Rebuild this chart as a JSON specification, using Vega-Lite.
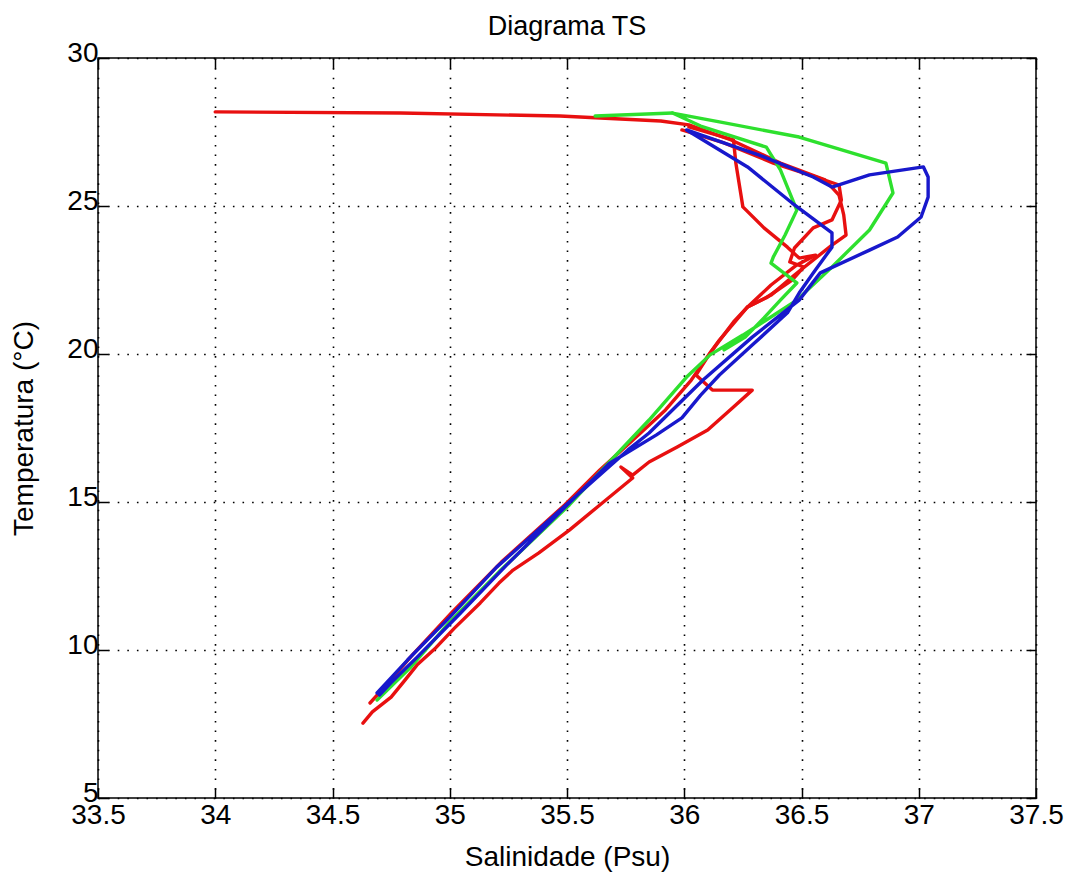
{
  "$schema": "https://vega.github.io/schema/vega-lite/v6.json",
  "width": 938,
  "height": 740,
  "autosize": {"type": "none"},
  "padding": {"left": 98, "top": 58, "right": 34, "bottom": 83},
  "background": "white",
  "title": {"text": "Diagrama TS", "fontSize": 27, "fontWeight": "normal", "font": "Liberation Sans", "color": "black", "offset": -2},
  "config": {
    "view": {"stroke": "black", "strokeWidth": 1.5},
    "font": "Liberation Sans",
    "axis": {
      "labelFont": "Liberation Sans",
      "titleFont": "Liberation Sans",
      "labelColor": "black",
      "titleColor": "black",
      "labelFontSize": 28,
      "titleFontSize": 28,
      "titleFontWeight": "normal",
      "domain": false,
      "tickColor": "black",
      "tickWidth": 1.5,
      "tickSize": -10,
      "labelFlush": false,
      "labelOverlap": false
    }
  },
  "datasets": {
    "perfis": [
      {"serie": "R1", "cor": "vermelho", "ordem": 1, "sal": 34.00, "temp": 28.18},
      {"serie": "R1", "cor": "vermelho", "ordem": 2, "sal": 34.79, "temp": 28.14},
      {"serie": "R1", "cor": "vermelho", "ordem": 3, "sal": 35.47, "temp": 28.04},
      {"serie": "R1", "cor": "vermelho", "ordem": 4, "sal": 35.90, "temp": 27.87},
      {"serie": "R1", "cor": "vermelho", "ordem": 5, "sal": 36.02, "temp": 27.74},
      {"serie": "R1", "cor": "vermelho", "ordem": 6, "sal": 36.20, "temp": 27.23},
      {"serie": "R1", "cor": "vermelho", "ordem": 7, "sal": 36.41, "temp": 26.45},
      {"serie": "R1", "cor": "vermelho", "ordem": 8, "sal": 36.60, "temp": 25.88},
      {"serie": "R1", "cor": "vermelho", "ordem": 9, "sal": 36.66, "temp": 25.37},
      {"serie": "R1", "cor": "vermelho", "ordem": 10, "sal": 36.68, "temp": 24.70},
      {"serie": "R1", "cor": "vermelho", "ordem": 11, "sal": 36.69, "temp": 24.02},
      {"serie": "R1", "cor": "vermelho", "ordem": 12, "sal": 36.63, "temp": 23.68},
      {"serie": "R1", "cor": "vermelho", "ordem": 13, "sal": 36.56, "temp": 23.24},
      {"serie": "R1", "cor": "vermelho", "ordem": 14, "sal": 36.47, "temp": 22.67},
      {"serie": "R1", "cor": "vermelho", "ordem": 15, "sal": 36.37, "temp": 21.99},
      {"serie": "R1", "cor": "vermelho", "ordem": 16, "sal": 36.27, "temp": 21.59},
      {"serie": "R1", "cor": "vermelho", "ordem": 17, "sal": 36.15, "temp": 20.47},
      {"serie": "R1", "cor": "vermelho", "ordem": 18, "sal": 36.11, "temp": 20.03},
      {"serie": "R1", "cor": "vermelho", "ordem": 19, "sal": 36.03, "temp": 19.12},
      {"serie": "R1", "cor": "vermelho", "ordem": 20, "sal": 35.92, "temp": 18.11},
      {"serie": "R1", "cor": "vermelho", "ordem": 21, "sal": 35.78, "temp": 17.09},
      {"serie": "R1", "cor": "vermelho", "ordem": 22, "sal": 35.64, "temp": 16.08},
      {"serie": "R1", "cor": "vermelho", "ordem": 23, "sal": 35.49, "temp": 14.90},
      {"serie": "R1", "cor": "vermelho", "ordem": 24, "sal": 35.22, "temp": 12.97},
      {"serie": "R1", "cor": "vermelho", "ordem": 25, "sal": 35.01, "temp": 11.28},
      {"serie": "R1", "cor": "vermelho", "ordem": 26, "sal": 34.84, "temp": 9.83},
      {"serie": "R1", "cor": "vermelho", "ordem": 27, "sal": 34.73, "temp": 8.82},
      {"serie": "R1", "cor": "vermelho", "ordem": 28, "sal": 34.66, "temp": 8.21},

      {"serie": "R2", "cor": "vermelho", "ordem": 1, "sal": 36.02, "temp": 27.67},
      {"serie": "R2", "cor": "vermelho", "ordem": 2, "sal": 36.21, "temp": 27.23},
      {"serie": "R2", "cor": "vermelho", "ordem": 3, "sal": 36.22, "temp": 26.45},
      {"serie": "R2", "cor": "vermelho", "ordem": 4, "sal": 36.25, "temp": 24.97},
      {"serie": "R2", "cor": "vermelho", "ordem": 5, "sal": 36.34, "temp": 24.26},
      {"serie": "R2", "cor": "vermelho", "ordem": 6, "sal": 36.44, "temp": 23.61},
      {"serie": "R2", "cor": "vermelho", "ordem": 7, "sal": 36.49, "temp": 23.24},
      {"serie": "R2", "cor": "vermelho", "ordem": 8, "sal": 36.56, "temp": 23.34},
      {"serie": "R2", "cor": "vermelho", "ordem": 9, "sal": 36.48, "temp": 23.01},
      {"serie": "R2", "cor": "vermelho", "ordem": 10, "sal": 36.37, "temp": 22.33},
      {"serie": "R2", "cor": "vermelho", "ordem": 11, "sal": 36.27, "temp": 21.59},
      {"serie": "R2", "cor": "vermelho", "ordem": 12, "sal": 36.21, "temp": 21.08},
      {"serie": "R2", "cor": "vermelho", "ordem": 13, "sal": 36.11, "temp": 20.03},
      {"serie": "R2", "cor": "vermelho", "ordem": 14, "sal": 36.05, "temp": 19.29},
      {"serie": "R2", "cor": "vermelho", "ordem": 15, "sal": 36.12, "temp": 18.78},
      {"serie": "R2", "cor": "vermelho", "ordem": 16, "sal": 36.29, "temp": 18.78},
      {"serie": "R2", "cor": "vermelho", "ordem": 17, "sal": 36.21, "temp": 18.21},
      {"serie": "R2", "cor": "vermelho", "ordem": 18, "sal": 36.10, "temp": 17.43},
      {"serie": "R2", "cor": "vermelho", "ordem": 19, "sal": 35.97, "temp": 16.86},
      {"serie": "R2", "cor": "vermelho", "ordem": 20, "sal": 35.85, "temp": 16.35},
      {"serie": "R2", "cor": "vermelho", "ordem": 21, "sal": 35.78, "temp": 15.91},
      {"serie": "R2", "cor": "vermelho", "ordem": 22, "sal": 35.73, "temp": 16.18},
      {"serie": "R2", "cor": "vermelho", "ordem": 23, "sal": 35.78, "temp": 15.81},
      {"serie": "R2", "cor": "vermelho", "ordem": 24, "sal": 35.64, "temp": 14.90},
      {"serie": "R2", "cor": "vermelho", "ordem": 25, "sal": 35.51, "temp": 14.05},
      {"serie": "R2", "cor": "vermelho", "ordem": 26, "sal": 35.38, "temp": 13.28},
      {"serie": "R2", "cor": "vermelho", "ordem": 27, "sal": 35.27, "temp": 12.70},
      {"serie": "R2", "cor": "vermelho", "ordem": 28, "sal": 35.21, "temp": 12.26},
      {"serie": "R2", "cor": "vermelho", "ordem": 29, "sal": 35.13, "temp": 11.59},
      {"serie": "R2", "cor": "vermelho", "ordem": 30, "sal": 35.02, "temp": 10.74},
      {"serie": "R2", "cor": "vermelho", "ordem": 31, "sal": 34.94, "temp": 10.07},
      {"serie": "R2", "cor": "vermelho", "ordem": 32, "sal": 34.86, "temp": 9.49},
      {"serie": "R2", "cor": "vermelho", "ordem": 33, "sal": 34.81, "temp": 8.99},
      {"serie": "R2", "cor": "vermelho", "ordem": 34, "sal": 34.75, "temp": 8.41},
      {"serie": "R2", "cor": "vermelho", "ordem": 35, "sal": 34.67, "temp": 7.91},
      {"serie": "R2", "cor": "vermelho", "ordem": 36, "sal": 34.63, "temp": 7.53},

      {"serie": "R3", "cor": "vermelho", "ordem": 1, "sal": 35.99, "temp": 27.57},
      {"serie": "R3", "cor": "vermelho", "ordem": 2, "sal": 36.17, "temp": 27.13},
      {"serie": "R3", "cor": "vermelho", "ordem": 3, "sal": 36.38, "temp": 26.45},
      {"serie": "R3", "cor": "vermelho", "ordem": 4, "sal": 36.55, "temp": 26.01},
      {"serie": "R3", "cor": "vermelho", "ordem": 5, "sal": 36.66, "temp": 25.71},
      {"serie": "R3", "cor": "vermelho", "ordem": 6, "sal": 36.67, "temp": 25.20},
      {"serie": "R3", "cor": "vermelho", "ordem": 7, "sal": 36.63, "temp": 24.53},
      {"serie": "R3", "cor": "vermelho", "ordem": 8, "sal": 36.55, "temp": 24.26},
      {"serie": "R3", "cor": "vermelho", "ordem": 9, "sal": 36.47, "temp": 23.58},
      {"serie": "R3", "cor": "vermelho", "ordem": 10, "sal": 36.45, "temp": 23.11},
      {"serie": "R3", "cor": "vermelho", "ordem": 11, "sal": 36.51, "temp": 22.94},
      {"serie": "R3", "cor": "vermelho", "ordem": 12, "sal": 36.46, "temp": 22.50},
      {"serie": "R3", "cor": "vermelho", "ordem": 13, "sal": 36.35, "temp": 21.90},
      {"serie": "R3", "cor": "vermelho", "ordem": 14, "sal": 36.27, "temp": 21.59},

      {"serie": "G1", "cor": "verde", "ordem": 1, "sal": 34.69, "temp": 8.31},
      {"serie": "G1", "cor": "verde", "ordem": 2, "sal": 34.83, "temp": 9.39},
      {"serie": "G1", "cor": "verde", "ordem": 3, "sal": 35.00, "temp": 10.95},
      {"serie": "G1", "cor": "verde", "ordem": 4, "sal": 35.21, "temp": 12.64},
      {"serie": "G1", "cor": "verde", "ordem": 5, "sal": 35.51, "temp": 14.90},
      {"serie": "G1", "cor": "verde", "ordem": 6, "sal": 35.68, "temp": 16.35},
      {"serie": "G1", "cor": "verde", "ordem": 7, "sal": 35.85, "temp": 17.77},
      {"serie": "G1", "cor": "verde", "ordem": 8, "sal": 36.01, "temp": 19.22},
      {"serie": "G1", "cor": "verde", "ordem": 9, "sal": 36.11, "temp": 19.97},
      {"serie": "G1", "cor": "verde", "ordem": 10, "sal": 36.25, "temp": 20.64},
      {"serie": "G1", "cor": "verde", "ordem": 11, "sal": 36.35, "temp": 21.15},
      {"serie": "G1", "cor": "verde", "ordem": 12, "sal": 36.48, "temp": 21.82},
      {"serie": "G1", "cor": "verde", "ordem": 13, "sal": 36.63, "temp": 22.94},
      {"serie": "G1", "cor": "verde", "ordem": 14, "sal": 36.79, "temp": 24.19},
      {"serie": "G1", "cor": "verde", "ordem": 15, "sal": 36.89, "temp": 25.44},
      {"serie": "G1", "cor": "verde", "ordem": 16, "sal": 36.86, "temp": 26.45},
      {"serie": "G1", "cor": "verde", "ordem": 17, "sal": 36.49, "temp": 27.33},
      {"serie": "G1", "cor": "verde", "ordem": 18, "sal": 36.15, "temp": 27.84},
      {"serie": "G1", "cor": "verde", "ordem": 19, "sal": 35.95, "temp": 28.14},
      {"serie": "G1", "cor": "verde", "ordem": 20, "sal": 36.07, "temp": 27.70},
      {"serie": "G1", "cor": "verde", "ordem": 21, "sal": 36.35, "temp": 26.99},
      {"serie": "G1", "cor": "verde", "ordem": 22, "sal": 36.41, "temp": 26.22},
      {"serie": "G1", "cor": "verde", "ordem": 23, "sal": 36.48, "temp": 24.86},
      {"serie": "G1", "cor": "verde", "ordem": 24, "sal": 36.43, "temp": 24.02},
      {"serie": "G1", "cor": "verde", "ordem": 25, "sal": 36.38, "temp": 23.28},
      {"serie": "G1", "cor": "verde", "ordem": 26, "sal": 36.37, "temp": 23.07},
      {"serie": "G1", "cor": "verde", "ordem": 27, "sal": 36.48, "temp": 22.40},
      {"serie": "G1", "cor": "verde", "ordem": 28, "sal": 36.41, "temp": 21.82},
      {"serie": "G1", "cor": "verde", "ordem": 29, "sal": 36.34, "temp": 21.22},
      {"serie": "G1", "cor": "verde", "ordem": 30, "sal": 36.26, "temp": 20.57},
      {"serie": "G1", "cor": "verde", "ordem": 31, "sal": 36.17, "temp": 20.14},

      {"serie": "G2", "cor": "verde", "ordem": 1, "sal": 35.62, "temp": 28.04},
      {"serie": "G2", "cor": "verde", "ordem": 2, "sal": 35.95, "temp": 28.14},

      {"serie": "B1", "cor": "azul", "ordem": 1, "sal": 34.69, "temp": 8.55},
      {"serie": "B1", "cor": "azul", "ordem": 2, "sal": 34.82, "temp": 9.66},
      {"serie": "B1", "cor": "azul", "ordem": 3, "sal": 35.00, "temp": 11.11},
      {"serie": "B1", "cor": "azul", "ordem": 4, "sal": 35.20, "temp": 12.80},
      {"serie": "B1", "cor": "azul", "ordem": 5, "sal": 35.51, "temp": 15.00},
      {"serie": "B1", "cor": "azul", "ordem": 6, "sal": 35.76, "temp": 16.76},
      {"serie": "B1", "cor": "azul", "ordem": 7, "sal": 35.85, "temp": 17.33},
      {"serie": "B1", "cor": "azul", "ordem": 8, "sal": 36.08, "temp": 19.12},
      {"serie": "B1", "cor": "azul", "ordem": 9, "sal": 36.29, "temp": 20.57},
      {"serie": "B1", "cor": "azul", "ordem": 10, "sal": 36.49, "temp": 21.82},
      {"serie": "B1", "cor": "azul", "ordem": 11, "sal": 36.58, "temp": 22.74},
      {"serie": "B1", "cor": "azul", "ordem": 12, "sal": 36.79, "temp": 23.51},
      {"serie": "B1", "cor": "azul", "ordem": 13, "sal": 36.91, "temp": 23.95},
      {"serie": "B1", "cor": "azul", "ordem": 14, "sal": 37.01, "temp": 24.63},
      {"serie": "B1", "cor": "azul", "ordem": 15, "sal": 37.04, "temp": 25.30},
      {"serie": "B1", "cor": "azul", "ordem": 16, "sal": 37.04, "temp": 25.98},
      {"serie": "B1", "cor": "azul", "ordem": 17, "sal": 37.02, "temp": 26.32},
      {"serie": "B1", "cor": "azul", "ordem": 18, "sal": 36.79, "temp": 26.05},
      {"serie": "B1", "cor": "azul", "ordem": 19, "sal": 36.63, "temp": 25.64},
      {"serie": "B1", "cor": "azul", "ordem": 20, "sal": 36.55, "temp": 25.98},
      {"serie": "B1", "cor": "azul", "ordem": 21, "sal": 36.32, "temp": 26.72},
      {"serie": "B1", "cor": "azul", "ordem": 22, "sal": 36.07, "temp": 27.40},
      {"serie": "B1", "cor": "azul", "ordem": 23, "sal": 36.01, "temp": 27.57},
      {"serie": "B1", "cor": "azul", "ordem": 24, "sal": 36.27, "temp": 26.32},
      {"serie": "B1", "cor": "azul", "ordem": 25, "sal": 36.46, "temp": 25.10},
      {"serie": "B1", "cor": "azul", "ordem": 26, "sal": 36.63, "temp": 24.09},
      {"serie": "B1", "cor": "azul", "ordem": 27, "sal": 36.63, "temp": 23.61},
      {"serie": "B1", "cor": "azul", "ordem": 28, "sal": 36.55, "temp": 22.74},
      {"serie": "B1", "cor": "azul", "ordem": 29, "sal": 36.49, "temp": 22.06},
      {"serie": "B1", "cor": "azul", "ordem": 30, "sal": 36.44, "temp": 21.39},
      {"serie": "B1", "cor": "azul", "ordem": 31, "sal": 36.29, "temp": 20.30},
      {"serie": "B1", "cor": "azul", "ordem": 32, "sal": 36.15, "temp": 19.29},
      {"serie": "B1", "cor": "azul", "ordem": 33, "sal": 36.07, "temp": 18.61},
      {"serie": "B1", "cor": "azul", "ordem": 34, "sal": 35.99, "temp": 17.84},
      {"serie": "B1", "cor": "azul", "ordem": 35, "sal": 35.88, "temp": 17.26},
      {"serie": "B1", "cor": "azul", "ordem": 36, "sal": 35.68, "temp": 16.30},
      {"serie": "B1", "cor": "azul", "ordem": 37, "sal": 35.52, "temp": 15.05},
      {"serie": "B1", "cor": "azul", "ordem": 38, "sal": 35.24, "temp": 12.85},
      {"serie": "B1", "cor": "azul", "ordem": 39, "sal": 35.04, "temp": 11.20},
      {"serie": "B1", "cor": "azul", "ordem": 40, "sal": 34.86, "temp": 9.75},
      {"serie": "B1", "cor": "azul", "ordem": 41, "sal": 34.75, "temp": 8.90},
      {"serie": "B1", "cor": "azul", "ordem": 42, "sal": 34.70, "temp": 8.48}
    ]
  },
  "data": {"name": "perfis"},
  "layer": [
    {
      "mark": {"type": "line", "strokeWidth": 3.4, "strokeJoin": "round", "strokeCap": "round"},
      "encoding": {
        "x": {
          "field": "sal", "type": "quantitative",
          "scale": {"domain": [33.5, 37.5], "nice": false, "zero": false},
          "axis": {
            "orient": "bottom",
            "values": [33.5, 34, 34.5, 35, 35.5, 36, 36.5, 37, 37.5],
            "format": "~g",
            "title": "Salinidade (Psu)",
            "labelPadding": 13,
            "titlePadding": 14,
            "grid": true,
            "gridColor": "black",
            "gridOpacity": 1,
            "gridWidth": 1.6,
            "gridDash": [1.6, 8]
          }
        },
        "y": {
          "field": "temp", "type": "quantitative",
          "scale": {"domain": [5, 30], "nice": false, "zero": false},
          "axis": {
            "orient": "left",
            "values": [5, 10, 15, 20, 25, 30],
            "format": "d",
            "title": "Temperatura (°C)",
            "labelPadding": 10,
            "labelOffset": -5,
            "titlePadding": 28,
            "grid": true,
            "gridColor": "black",
            "gridOpacity": 1,
            "gridWidth": 1.6,
            "gridDash": [1.6, 8]
          }
        },
        "color": {
          "field": "cor", "type": "nominal",
          "scale": {"domain": ["vermelho", "verde", "azul"], "range": ["#e81010", "#2ee02e", "#1818cc"]},
          "legend": null
        },
        "detail": {"field": "serie"},
        "order": {"field": "ordem", "type": "quantitative"}
      }
    },
    {
      "mark": {"type": "point", "opacity": 0},
      "encoding": {
        "x": {
          "field": "sal", "type": "quantitative",
          "axis": {"orient": "top", "values": [33.5, 34, 34.5, 35, 35.5, 36, 36.5, 37, 37.5], "labels": false, "title": null, "grid": false}
        },
        "y": {
          "field": "temp", "type": "quantitative",
          "axis": {"orient": "right", "values": [5, 10, 15, 20, 25, 30], "labels": false, "title": null, "grid": false}
        }
      }
    }
  ],
  "resolve": {"axis": {"x": "independent", "y": "independent"}}
}
